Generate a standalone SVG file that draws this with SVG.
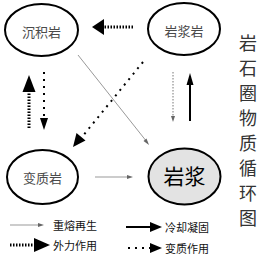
<svg xmlns="http://www.w3.org/2000/svg" width="264" height="259" viewBox="0 0 264 259">
<style>
.node{fill:#fff;stroke:#000;stroke-width:2}
.magma{fill:#e3e3e3;stroke:#000;stroke-width:2}
.lbl{font-family:"Noto Sans CJK SC","Liberation Sans",sans-serif;font-size:13px;fill:#4a4a4a;text-anchor:middle;dominant-baseline:central}
.big{font-family:"Noto Sans CJK SC","Liberation Sans",sans-serif;font-size:21px;fill:#000;text-anchor:middle;dominant-baseline:central}
.title{font-family:"Noto Sans CJK SC","Liberation Sans",sans-serif;font-size:18px;fill:#333;text-anchor:middle;dominant-baseline:central}
.leg{font-family:"Noto Sans CJK SC","Liberation Sans",sans-serif;font-size:11px;fill:#111;dominant-baseline:central}
.remelt{stroke:#999;stroke-width:1;fill:none}
.cool{stroke:#000;stroke-width:2;fill:none}
.ext{stroke:#000;stroke-width:3;stroke-dasharray:1.5 1.5;fill:none}
.meta{stroke:#000;stroke-width:2;stroke-dasharray:2 5;fill:none}
.thin{stroke:#777;stroke-width:1;stroke-dasharray:1.5 1.5;fill:none}
.head{fill:#000}
.ghead{fill:#666}
</style>
<g id="connectors">
  <line class="ext" x1="133" y1="27" x2="103" y2="27"/>
  <polygon class="head" points="92,27 104,19 104,35"/>
  <line class="ext" x1="29" y1="128" x2="29" y2="91"/>
  <polygon class="head" points="29,75 22.5,92 35.5,92"/>
  <line class="meta" x1="44" y1="72" x2="44" y2="117"/>
  <polygon class="head" points="44,130 40,118 48,118"/>
  <line class="meta" x1="143" y1="62" x2="82" y2="137"/>
  <polygon class="head" points="73,147 76.5,133 85.5,140.5"/>
  <line class="remelt" x1="78" y1="55" x2="147" y2="142"/>
  <polygon class="ghead" points="149,145 143.5,141 146.5,138.5"/>
  <line class="thin" x1="173" y1="72" x2="173" y2="118"/>
  <polygon class="ghead" points="173,122 171,116 175,116"/>
  <line class="cool" x1="190" y1="121" x2="190" y2="84"/>
  <polygon class="head" points="190,73 186.5,85 193.5,85"/>
  <line class="remelt" x1="95" y1="177" x2="129" y2="177"/>
  <polygon class="ghead" points="133,177 127,175 127,179"/>
</g>
<g id="n-sediment">
  <ellipse class="node" cx="41.5" cy="30" rx="36.5" ry="26"/>
  <text class="lbl" x="41.5" y="31">沉积岩</text>
</g>
<g id="n-igneous">
  <ellipse class="node" cx="184" cy="29" rx="36" ry="26"/>
  <text class="lbl" x="184" y="30">岩浆岩</text>
</g>
<g id="n-metamorphic">
  <ellipse class="node" cx="42.5" cy="177" rx="35.5" ry="27"/>
  <text class="lbl" x="42.5" y="177">变质岩</text>
</g>
<g id="n-magma">
  <ellipse class="magma" cx="184.5" cy="176.5" rx="36" ry="28"/>
  <text class="big" x="184.5" y="175">岩浆</text>
</g>
<g id="title">
  <text class="title" x="248" y="42">岩</text>
  <text class="title" x="248" y="67">石</text>
  <text class="title" x="248" y="92">圈</text>
  <text class="title" x="248" y="117">物</text>
  <text class="title" x="248" y="142">质</text>
  <text class="title" x="248" y="167">循</text>
  <text class="title" x="248" y="192">环</text>
  <text class="title" x="248" y="217">图</text>
</g>
<g id="legend">
  <line class="remelt" x1="10" y1="225" x2="40" y2="225"/>
  <polygon class="ghead" points="44,225 38,223 38,227"/>
  <text class="leg" x="53" y="225">重熔再生</text>
  <line class="ext" x1="10" y1="245" x2="34" y2="245"/>
  <polygon class="head" points="50,245 34,238 34,252"/>
  <text class="leg" x="53" y="245">外力作用</text>
  <line class="cool" x1="126" y1="227" x2="151" y2="227"/>
  <polygon class="head" points="162,227 150,222 150,232"/>
  <text class="leg" x="165" y="227">冷却凝固</text>
  <line class="meta" x1="128" y1="248" x2="150" y2="248"/>
  <polygon class="head" points="162,248 150,243 150,253"/>
  <text class="leg" x="165" y="248">变质作用</text>
</g>
</svg>
